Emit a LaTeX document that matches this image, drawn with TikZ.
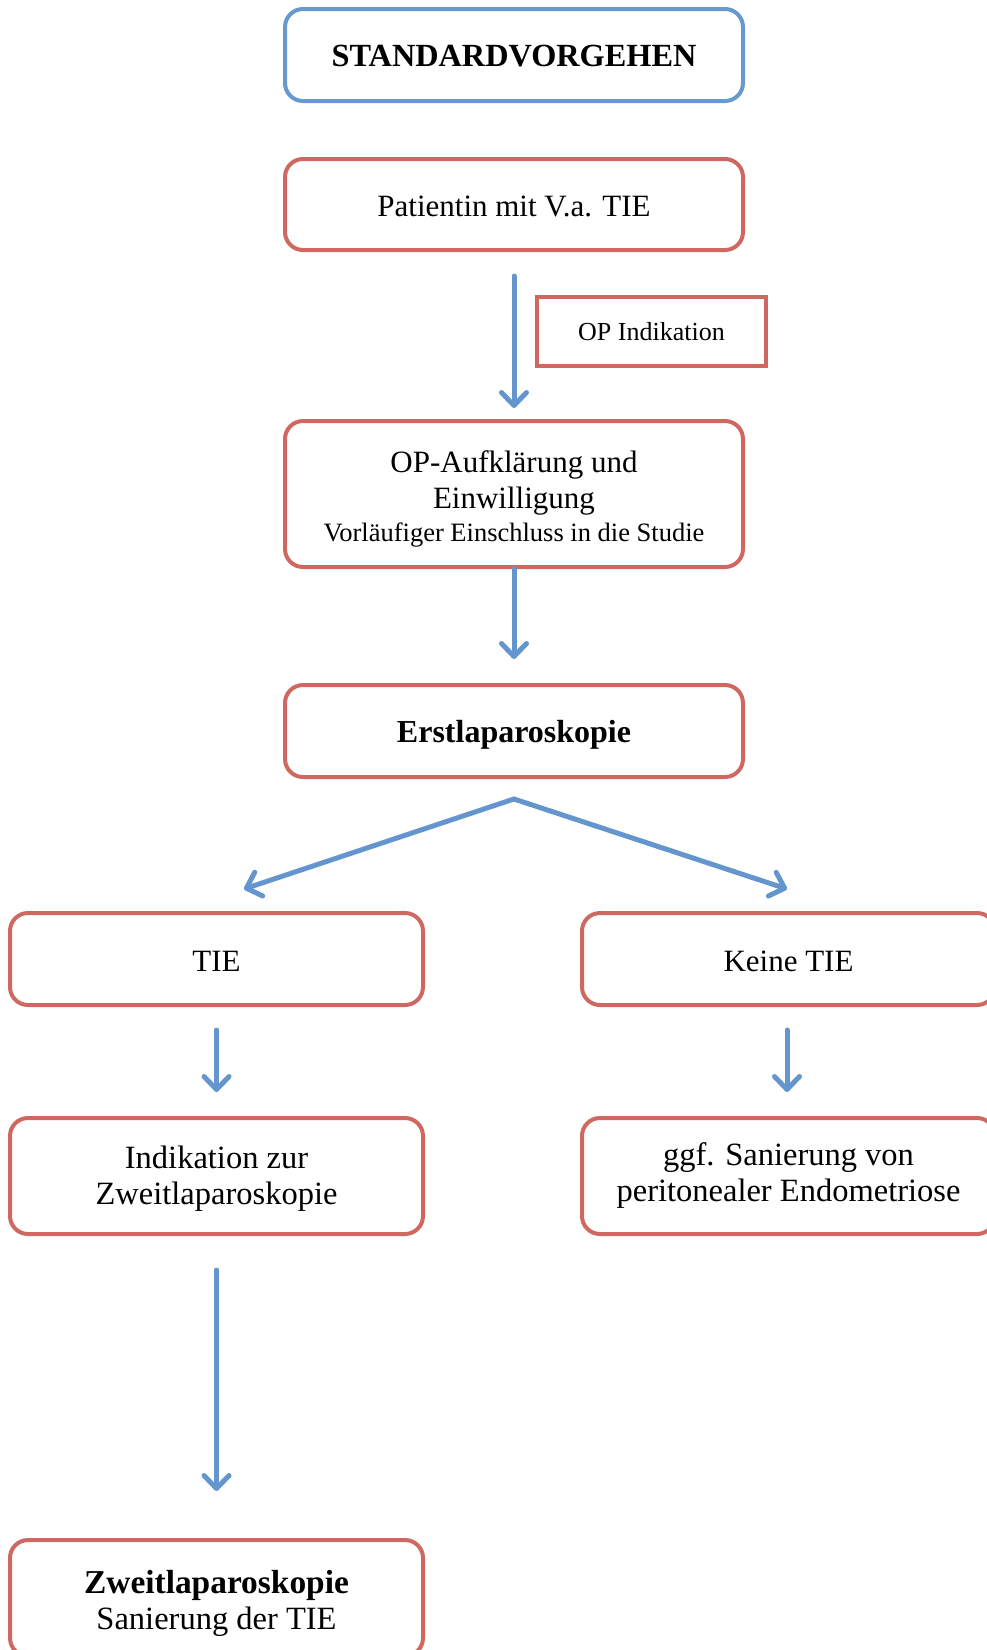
\documentclass[tikz,border=0pt]{standalone}
\usepackage{fontspec}
\setmainfont{Liberation Serif}
\usetikzlibrary{arrows.meta}
\definecolor{boxred}{RGB}{208,104,98}
\definecolor{boxblue}{RGB}{102,153,206}
\definecolor{arrblue}{RGB}{100,150,205}
\tikzset{
  box/.style={draw=boxred, line width=4pt, rounded corners=18pt, inner sep=0pt, fill=white},
  bluebox/.style={box, draw=boxblue},
  sqbox/.style={draw=boxred, line width=4pt, inner sep=0pt, fill=white},
  wide/.style={minimum width=458pt},
  half/.style={minimum width=413pt},
  txt/.style={align=center, inner sep=0pt},
  arr/.style={draw=arrblue, line width=5pt, line cap=round, -{Straight Barb[round,length=13pt,width=25pt]}},
  normtxt/.style={txt, font=\fontsize{31}{36}\selectfont},
  lowtxt/.style={txt, font=\fontsize{32.5}{36}\selectfont},
}
\begin{document}
\begin{tikzpicture}[x=1pt,y=-1pt]
\useasboundingbox (0,0) rectangle (987,1650);
% boxes
\node[bluebox, wide, minimum height=92pt] (std) at (514,55) {};
\node[box, wide, minimum height=91pt] (pat) at (514,204.5) {};
\node[sqbox, minimum width=229pt, minimum height=69pt] (opind) at (651.5,331.5) {};
\node[box, wide, minimum height=146pt] (auf) at (514,494) {};
\node[box, wide, minimum height=92pt] (erst) at (514,731) {};
\node[box, half, minimum height=92pt] (tie) at (216.5,959) {};
\node[box, half, minimum height=92pt] (keine) at (788.5,959) {};
\node[box, half, minimum height=116pt] (ind) at (216.5,1176) {};
\node[box, half, minimum height=116pt] (ggf) at (788.5,1176) {};
\node[box, half, minimum height=116pt] (zweit) at (216.5,1598) {};
% texts
\node[txt, font=\fontsize{32.3}{38}\selectfont\bfseries] (stdT) at ([yshift=-1pt]std.center) {STANDARDVORGEHEN};
\node[normtxt] (patT) at ([yshift=-2pt]pat.center) {Patientin mit V.a. TIE};
\node[txt, font=\fontsize{26}{30}\selectfont] (opindT) at (opind.center) {OP Indikation};
\node[normtxt] (aufT) at ([yshift=-5pt]auf.center) {OP-Aufklärung und\\Einwilligung\\[-3pt]{\fontsize{26.5}{30}\selectfont Vorläufiger Einschluss in die Studie}};
\node[txt, font=\fontsize{32}{37}\selectfont\bfseries] (erstT) at ([yshift=-4pt]erst.center) {Erstlaparoskopie};
\node[normtxt] (tieT) at ([yshift=-2pt]tie.center) {TIE};
\node[normtxt] (keineT) at ([yshift=-2pt]keine.center) {Keine TIE};
\node[lowtxt] (indT) at ([yshift=-3pt]ind.center) {Indikation zur\\Zweitlaparoskopie};
\node[lowtxt] (ggfT) at (ggf.center) {ggf. Sanierung von\\peritonealer Endometriose};
\node[lowtxt] (zweitT) at ([yshift=-5pt]zweit.center) {{\fontsize{33.4}{37}\selectfont\bfseries Zweitlaparoskopie}\\Sanierung der TIE};
% connectors
\coordinate (split) at (514,799);
\coordinate (tl) at (244,889);
\coordinate (tr) at (787,889);
\draw[arr, shorten <=24pt, shorten >=11pt] (pat) -- (auf);
\draw[arr, shorten >=24pt] (auf) -- (erst);
\draw[arr] (split) -- (tl);
\draw[arr] (split) -- (tr);
\draw[arr, shorten <=23pt, shorten >=24pt] (tie) -- (ind);
\draw[arr, shorten <=23pt, shorten >=24pt] (keine.south -| tr) -- (ggf.north -| tr);
\draw[arr, shorten <=34pt, shorten >=47pt] (ind) -- (zweit);
\end{tikzpicture}
\end{document}
